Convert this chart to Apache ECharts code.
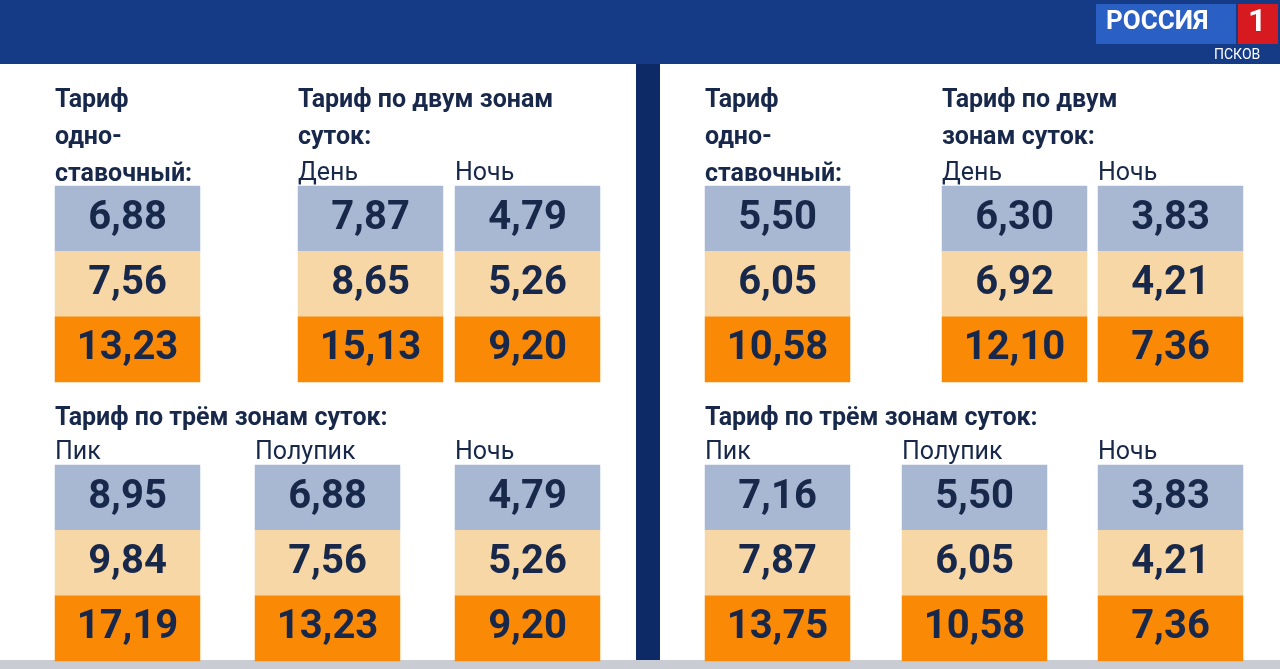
<!DOCTYPE html>
<html><head><meta charset="utf-8">
<script src="https://cdn.jsdelivr.net/npm/echarts@6/dist/echarts.min.js"></script>
<style>html,body{margin:0;padding:0;background:#0d2a66}#c{width:1280px;height:669px}</style>
</head><body><div id="c"></div>
<script>
// tariff values, rows: base / +10% / higher
const leftSingle = [6.88, 7.56, 13.23];
const leftDay = [7.87, 8.65, 15.13];
const leftNight = [4.79, 5.26, 9.20];
const leftPeak = [8.95, 9.84, 17.19];
const leftHalf = [6.88, 7.56, 13.23];
const leftNight3 = [4.79, 5.26, 9.20];
const rightSingle = [5.50, 6.05, 10.58];
const rightDay = [6.30, 6.92, 12.10];
const rightNight = [3.83, 4.21, 7.36];
const rightPeak = [7.16, 7.87, 13.75];
const rightHalf = [5.50, 6.05, 10.58];
const rightNight3 = [3.83, 4.21, 7.36];
const rowColors = ['#a8b8d2', '#f8d7a6', '#fa8a06'];

const chart = echarts.init(document.getElementById('c'));
const F = 'Roboto, sans-serif';
const navy = '#17284a';

// column boxes: [left, top, data]
const cols = [
  [55, 186, leftSingle], [298, 186, leftDay], [455, 186, leftNight],
  [55, 465, leftPeak], [255, 465, leftHalf], [455, 465, leftNight3],
  [705, 186, rightSingle], [942, 186, rightDay], [1098, 186, rightNight],
  [705, 465, rightPeak], [902, 465, rightHalf], [1098, 465, rightNight3]
];

const grid = [], xAxis = [], yAxis = [], series = [];
cols.forEach((c, i) => {
  grid.push({left: c[0], top: c[1], width: 145, height: 196});
  xAxis.push({type: 'category', gridIndex: i, data: ['a'], show: false});
  yAxis.push({type: 'category', gridIndex: i, data: ['0', '1', '2'], inverse: true, show: false});
  series.push({
    type: 'heatmap', xAxisIndex: i, yAxisIndex: i,
    data: c[2].map((v, r) => ({value: [0, r, v], itemStyle: {color: rowColors[r]}})),
    label: {show: true, color: navy, fontFamily: F, fontWeight: 'bold', fontSize: 40,
      formatter: p => p.value[2].toFixed(2).replace('.', ',')},
    emphasis: {disabled: true}
  });
});

function txt(x, y, s, bold, size) {
  return {type: 'text', left: x, top: y, style: {text: s, font: (bold ? 'bold ' : '') + (size || 25) + 'px ' + F, fill: navy, lineHeight: 37}};
}

const graphic = [
  {type: 'rect', shape: {x: 0, y: 0, width: 1280, height: 64}, style: {fill: '#163b86'}},
  {type: 'rect', shape: {x: 0, y: 64, width: 636, height: 596}, style: {fill: '#ffffff'}},
  {type: 'rect', shape: {x: 660, y: 64, width: 620, height: 596}, style: {fill: '#ffffff'}},
  {type: 'rect', shape: {x: 0, y: 660, width: 1280, height: 9}, style: {fill: '#c9ccd3'}},
  {type: 'rect', shape: {x: 1096, y: 4, width: 140, height: 40}, style: {fill: '#2a5fc4'}},
  {type: 'text', left: 1106, top: 9, style: {text: 'РОССИЯ', font: 'bold 26px ' + F, fill: '#fff'}},
  {type: 'rect', shape: {x: 1238, y: 4, width: 40, height: 40}, style: {fill: '#d71920'}},
  {type: 'text', left: 1248, top: 7, style: {text: '1', font: 'bold 32px ' + F, fill: '#fff'}},
  {type: 'text', left: 1214, top: 48, style: {text: 'ПСКОВ', font: '14px ' + F, fill: '#ffffff'}},
  txt(55, 82, 'Тариф\nодно-\nставочный:', true),
  txt(298, 82, 'Тариф по двум зонам\nсуток:', true),
  txt(298, 155, 'День', false), txt(455, 155, 'Ночь', false),
  txt(55, 400, 'Тариф по трём зонам суток:', true),
  txt(55, 434, 'Пик', false), txt(255, 434, 'Полупик', false), txt(455, 434, 'Ночь', false),
  txt(705, 82, 'Тариф\nодно-\nставочный:', true),
  txt(942, 82, 'Тариф по двум\nзонам суток:', true),
  txt(942, 155, 'День', false), txt(1098, 155, 'Ночь', false),
  txt(705, 400, 'Тариф по трём зонам суток:', true),
  txt(705, 434, 'Пик', false), txt(902, 434, 'Полупик', false), txt(1098, 434, 'Ночь', false)
];

chart.setOption({animation: false, grid, xAxis, yAxis, series, graphic});
</script></body></html>
